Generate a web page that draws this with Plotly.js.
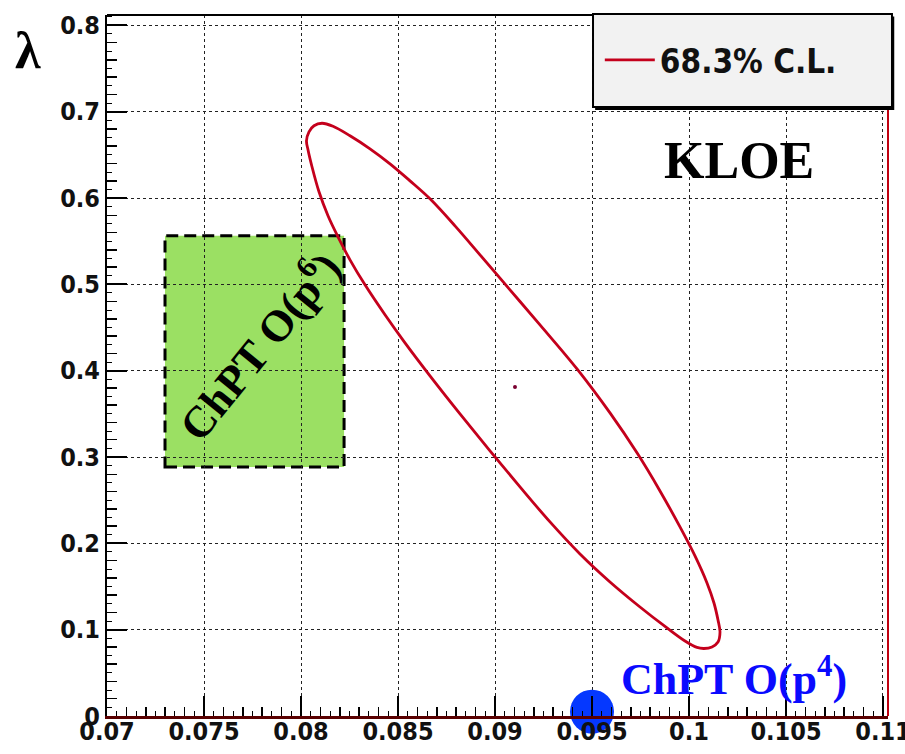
<!DOCTYPE html>
<html>
<head>
<meta charset="utf-8">
<script src="https://cdn.plot.ly/plotly-3.0.1.min.js"></script>
<style>html,body{margin:0;padding:0;background:#fff;}#chart{width:905px;height:754px;}</style>
</head>
<body>
<div id="chart"></div>
<script>
// ---- data ----
const ellipseX = [0.081082,0.081649,0.082526,0.083557,0.084588,0.085619,0.086649,0.087938,0.089227,0.090773,
  0.092319,0.094227,0.095928,0.097319,0.098505,0.099536,0.100309,0.100928,0.101288,0.101495,
  0.101598,0.101495,0.101185,0.100773,0.100412,0.099794,
  0.098866,0.097474,0.095928,0.094381,0.092835,0.091288,0.089742,0.088196,0.086649,0.085361,
  0.084330,0.083299,0.082526,0.081907,0.081392,0.080928,0.080567,0.080361,0.080283,0.080412,
  0.080670,0.081082];
const ellipseY = [0.6866,0.6831,0.6721,0.6570,0.6396,0.6199,0.5991,0.5678,0.5342,0.4936,
  0.4531,0.4021,0.3511,0.3048,0.2607,0.2190,0.1854,0.1541,0.1309,0.1112,
  0.0973,0.0857,0.0800,0.0782,0.0794,0.0869,
  0.1020,0.1263,0.1553,0.1877,0.2248,0.2654,0.3071,0.3499,0.3940,0.4322,
  0.4647,0.4994,0.5284,0.5550,0.5794,0.6072,0.6362,0.6559,0.6663,0.6767,
  0.6837,0.6866];
const bestFitX = [0.09103];
const bestFitY = [0.3812];
const chptP4X = [0.095];
const chptP4Y = [0.005];
const chptP6BoxX = [0.07299, 0.08222];
const chptP6BoxY = [0.2885, 0.5562];
const xTickVals = [0.07,0.075,0.08,0.085,0.09,0.095,0.1,0.105,0.11];
const xTickText = ['0.07','0.075','0.08','0.085','0.09','0.095','0.1','0.105','0.11'];
const yTickVals = [0,0.1,0.2,0.3,0.4,0.5,0.6,0.7,0.8];
const yTickText = ['0','0.1','0.2','0.3','0.4','0.5','0.6','0.7','0.8'];
const xRange = [0.07, 0.110258];
const yRange = [0, 0.812];
const legendLabel = '68.3% C.L.';

const narrow = 'Liberation Sans Narrow, DejaVu Sans Condensed, Arial Narrow, sans-serif';
const serif = 'Liberation Serif, Times New Roman, DejaVu Serif, serif';

const traces = [
  {type:'scatter', mode:'lines', x: ellipseX, y: ellipseY, name: legendLabel,
   line:{color:'#c4001c', width:2.8, shape:'spline', smoothing:1}, showlegend:true},
  {type:'scatter', mode:'markers', x: bestFitX, y: bestFitY, showlegend:false,
   marker:{color:'#7a0030', size:4}},
  {type:'scatter', mode:'markers', x: chptP4X, y: chptP4Y, showlegend:false, cliponaxis:false,
   marker:{color:'#0538ff', size:44, line:{width:0}}},
  {type:'scatter', mode:'lines', x: [xRange[0]], y:[yRange[0]], xaxis:'x2', yaxis:'y2', showlegend:false, hoverinfo:'skip', line:{width:0}}
];

const axisCommon = {
  ticks:'inside', tickcolor:'#000', showgrid:true, gridcolor:'#222', gridwidth:1, griddash:'dot',
  zeroline:false, tickfont:{family:narrow, size:25, color:'#111', weight:'bold'}
};

const layout = {
  width:905, height:754,
  margin:{l:107, r:17, t:15, b:38, pad:0},
  paper_bgcolor:'#fff', plot_bgcolor:'#fff',
  showlegend:true,
  legend:{x:0.631, y:0.9358, xanchor:'left', yanchor:'middle', bgcolor:'rgba(0,0,0,0)', borderwidth:0,
          font:{family:narrow, size:33, color:'#111', weight:'bold'}, itemwidth:50},
  xaxis: Object.assign({}, axisCommon, {
    range:xRange, tickmode:'array', tickvals:xTickVals, ticktext:xTickText,
    ticklen:20, tickwidth:2, ticklabelstandoff:-9, ticklabeloverflow:'allow',
    showline:true, linecolor:'#5a0000', linewidth:3,
    minor:{dtick:0.001, ticks:'inside', ticklen:9, tickwidth:1.5, tickcolor:'#000', showgrid:false}
  }),
  yaxis: Object.assign({}, axisCommon, {
    range:yRange, tickmode:'array', tickvals:yTickVals, ticktext:yTickText,
    ticklen:20, tickwidth:2, ticklabelstandoff:0,
    showline:true, linecolor:'#000', linewidth:2,
    minor:{dtick:0.02, ticks:'inside', ticklen:10, tickwidth:1.5, tickcolor:'#000', showgrid:false}
  }),
  xaxis2:{overlaying:'x', anchor:'y', range:xRange, showgrid:false, zeroline:false, showticklabels:false,
    ticks:'inside', dtick:0.0005, tick0:0.07, ticklen:5, tickwidth:1, tickcolor:'#000', showline:false},
  yaxis2:{overlaying:'y', anchor:'x', range:yRange, showgrid:false, zeroline:false, showticklabels:false,
    ticks:'inside', dtick:0.01, tick0:0, ticklen:5, tickwidth:1, tickcolor:'#000', showline:false},
  shapes:[
    {type:'rect', layer:'below', xref:'x', yref:'y',
     x0:chptP6BoxX[0], x1:chptP6BoxX[1], y0:chptP6BoxY[0], y1:chptP6BoxY[1],
     fillcolor:'#9be063', line:{color:'#000', width:3, dash:'12px,6px'}},
    {type:'line', xref:'paper', yref:'paper', x0:0, x1:1, y0:1, y1:1, line:{color:'#000', width:2}},
    {type:'line', xref:'paper', yref:'paper', x0:1, x1:1, y0:0, y1:1, line:{color:'#c00010', width:2}},
    {type:'rect', xref:'paper', yref:'paper', x0:0.6250, x1:1.0080, y0:0.8645, y1:0.9980,
     fillcolor:'#000', line:{width:0}},
    {type:'rect', xref:'paper', yref:'paper', x0:0.6223, x1:1.0051, y0:0.8688, y1:1.0014,
     fillcolor:'#f2f2f2', line:{color:'#000', width:2}}
  ],
  annotations:[
    {xref:'paper', yref:'paper', x:-0.1015, y:0.9500, xanchor:'center', yanchor:'middle', showarrow:false,
     text:'λ', font:{family:serif, size:52, color:'#000', weight:'bold'}},
    {xref:'x', yref:'y', x:0.10258, y:0.644, xanchor:'center', yanchor:'middle', showarrow:false,
     text:'KLOE', font:{family:serif, size:52, color:'#000', weight:'bold'}},
    {xref:'x', yref:'y', x:0.0964, y:0.046, xanchor:'left', yanchor:'middle', showarrow:false,
     text:'ChPT O(p<sup>4</sup>)', font:{family:serif, size:44, color:'#0a0aff', weight:'bold'}},
    {xref:'x', yref:'y', x:0.07778, y:0.4299, xanchor:'center', yanchor:'middle', showarrow:false, textangle:-51,
     text:'ChPT O(p<sup>6</sup>)', font:{family:serif, size:44, color:'#000', weight:'bold'}}
  ]
};

Plotly.newPlot('chart', traces, layout, {staticPlot:true, displayModeBar:false});
</script>
</body>
</html>
